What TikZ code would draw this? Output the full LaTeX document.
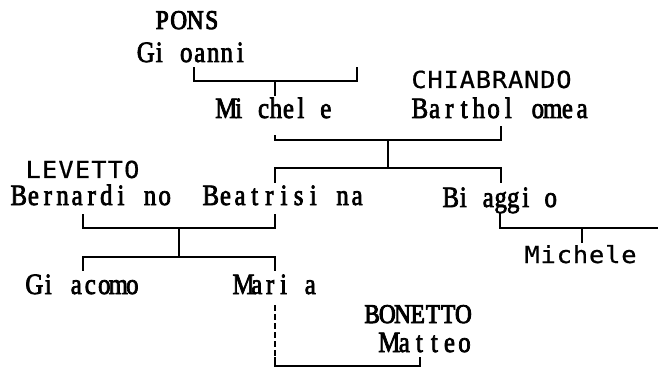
\documentclass[tikz,border=0pt]{standalone}
\usepackage{fontspec}
\newfontfamily\serifname[FakeStretch=0.84,FakeBold=2.5]{Liberation Serif}
\newfontfamily\surfont[FakeStretch=0.86,FakeBold=3.5]{Liberation Serif}
\newfontfamily\sansname[FakeStretch=1.08,FakeBold=0.6]{DejaVu Sans Mono}
\ExplSyntaxOn
\dim_new:N \l_rs_cell_dim
\NewDocumentCommand\cells{mm}{
  \dim_set:Nn \l_rs_cell_dim { (#1) / \str_count:n {#2} }
  \str_map_inline:nn {#2} { \makebox[\l_rs_cell_dim]{##1} }
}
\ExplSyntaxOff
\tikzset{
  nm/.style={anchor=base west, inner sep=0pt, outer sep=0pt, font=\serifname\fontsize{29.5}{29.5}\selectfont},
  sur/.style={anchor=base west, inner sep=0pt, outer sep=0pt, font=\surfont\fontsize{27}{27}\selectfont},
  sn/.style={anchor=base west, inner sep=0pt, outer sep=0pt, font=\sansname\fontsize{23.5}{23.5}\selectfont},
  ln/.style={line width=1.6pt, line cap=rect},
  dl/.style={line width=1.6pt, dash pattern=on 6pt off 3pt}
}
\begin{document}
\begin{tikzpicture}[x=1pt,y=-1pt]
\useasboundingbox (0,0) rectangle (658,374);
% names
\node[sur] (pons) at (154,29) {\cells{66pt}{PONS}};
\node[nm] (gioanni) at (139,62) {\cells{108pt}{Gi oanni}};
\node[nm] (michele) at (220,118) {\cells{112pt}{Mi chel e}};
\node[sn] (chiabrando) at (411,88) {\cells{161pt}{CHIABRANDO}};
\node[nm] (bartholomea) at (412.5,118) {\cells{177pt}{Barthol omea}};
\node[sn] (levetto) at (25,178) {\cells{115pt}{LEVETTO}};
\node[nm] (bernardino) at (11.5,205) {\cells{160.5pt}{Bernardi no}};
\node[nm] (beatrisina) at (203.5,205) {\cells{161pt}{Beatrisi na}};
\node[nm] (biaggio) at (444.5,207) {\cells{112.5pt}{Bi aggi o}};
\node[sn] (michele2) at (524,263) {\cells{113pt}{Michele}};
\node[nm] (giacomo) at (27.3,294) {\cells{112pt}{Gi acomo}};
\node[nm] (maria) at (236.8,294) {\cells{80.2pt}{Mari a}};
\node[sur] (bonetto) at (364.5,323) {\cells{106.5pt}{BONETTO}};
\node[nm] (matteo) at (381.8,352) {\cells{90.2pt}{Matteo}};
% junction points
\coordinate (a1) at (194,68); \coordinate (a2) at (194,81);
\coordinate (a3) at (357,81); \coordinate (a4) at (357,68);
\coordinate (am) at (275,81); \coordinate (ac) at (275,95);
\coordinate (b1) at (275,136); \coordinate (b2) at (275,140);
\coordinate (b3) at (501,140); \coordinate (b4) at (501,127);
\coordinate (bm) at (388,140); \coordinate (bc) at (388,168);
\coordinate (c1) at (275,182); \coordinate (c2) at (275,168);
\coordinate (c3) at (501,168); \coordinate (c4) at (501,182);
\coordinate (d1) at (83,215); \coordinate (d2) at (83,228);
\coordinate (d3) at (275,228); \coordinate (d4) at (275,215);
\coordinate (dm) at (179,228); \coordinate (dc) at (179,257);
\coordinate (e1) at (83,270); \coordinate (e2) at (83,257);
\coordinate (e3) at (275,257); \coordinate (e4) at (275,270);
\coordinate (f1) at (500,213); \coordinate (f2) at (500,228);
\coordinate (f3) at (658,228);
\coordinate (fm) at (582,228); \coordinate (fc) at (582,242);
\coordinate (g1) at (275,305); \coordinate (g2) at (275,358);
\coordinate (g3) at (275,366); \coordinate (g4) at (420,366);
\coordinate (g5) at (420,358);
% connectors
\draw[ln] (a1) -- (a2) -- (a3) -- (a4);
\draw[ln] (am) -- (ac);
\draw[ln] (b1) -- (b2) -- (b3) -- (b4);
\draw[ln] (bm) -- (bc);
\draw[ln] (c1) -- (c2) -- (c3) -- (c4);
\draw[ln] (d1) -- (d2) -- (d3) -- (d4);
\draw[ln] (dm) -- (dc);
\draw[ln] (e1) -- (e2) -- (e3) -- (e4);
\draw[ln] (f1) -- (f2) -- (f3);
\draw[ln] (fm) -- (fc);
\draw[dl] (g1) -- (g2);
\draw[ln] (g2) -- (g3) -- (g4) -- (g5);
\end{tikzpicture}
\end{document}
